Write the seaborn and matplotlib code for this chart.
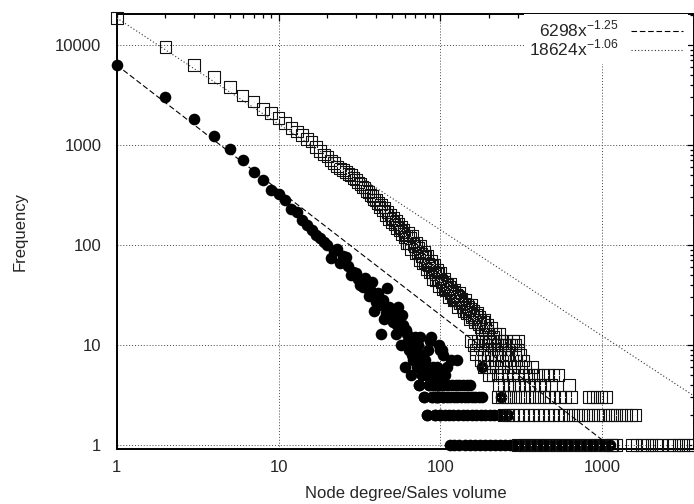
"""
Degree distribution and sales volume distribution on log-log axes,
with the two power-law fits shown in the legend.
"""
import matplotlib
matplotlib.use('Agg')
import matplotlib.pyplot as plt
from matplotlib.ticker import LogLocator, FixedLocator, NullFormatter
import numpy as np
import seaborn as sns

# node degree distribution (filled circles), one value per degree
deg_x = list(range(1, 106))
deg_y = [6300, 3000, 1820, 1240, 910, 700, 537, 450, 352, 326,
         281, 229, 215, 178, 158, 141, 126, 117, 108, 100,
         74, 88, 91, 66, 78, 76, 62, 50, 54, 53,
         46, 40, 38, 47, 37, 31, 35, 43, 22, 27,
         33, 25, 13, 28, 18, 21, 37, 24, 20, 21,
         17, 19, 13, 16, 24, 15, 10, 20, 16, 6,
         14, 13, 11, 9, 10, 5, 8, 7, 9, 12,
         7, 6, 10, 4, 12, 8, 5, 6, 3, 7,
         6, 5, 2, 9, 4, 11, 12, 5, 3, 6,
         4, 2, 5, 3, 6, 4, 3, 10, 2, 9,
         4, 9, 3, 8, 5]
# degrees that share the same low frequency
deg_band_y = [7, 6, 5, 4, 3, 2, 1]
deg_band_x = [
    [116, 126],
    [109, 181],
    [77, 82, 88, 93, 101, 106],
    [74, 85, 91, 96, 101, 107, 112, 118, 125, 131, 138, 146, 153],
    [79, 89, 94, 97, 103, 110, 115, 121, 127, 134, 141, 148, 156, 164,
     172, 181, 236],
    [83, 92, 99, 107, 113, 120, 128, 137, 146, 156, 166, 177, 189, 202,
     215, 229, 244, 260],
    [114, 122, 131, 141, 152, 163, 175, 188, 202, 217, 233, 250, 269,
     289, 310, 333, 358, 384, 413, 443, 476, 511, 549, 590, 634, 681,
     731, 785, 843, 906, 973, 1045, 1120],
]

# sales volume distribution (open squares)
sales_x = (list(range(1, 101))
           + [102, 104, 106, 108, 110, 112, 114, 116, 118, 120, 122, 124,
              126, 128, 130, 133, 136, 139, 142, 145, 148, 151, 154, 157,
              160, 164, 168, 172, 176, 180, 185, 190, 195, 200, 205, 211,
              218, 225, 232, 240, 250, 262, 275])
sales_y = [18624, 9480, 6310, 4750, 3775, 3115, 2710, 2300, 2075, 1850,
           1660, 1475, 1360, 1250, 1150, 1080, 950, 870, 800, 765,
           700, 660, 610, 580, 560, 540, 515, 500, 470, 450,
           420, 410, 380, 375, 345, 340, 315, 310, 285, 280,
           262, 240, 255, 222, 236, 200, 215, 182, 200, 170,
           185, 160, 176, 148, 162, 140, 152, 128, 142, 120,
           124, 104, 133, 105, 119, 90, 123, 103, 98, 83,
           106, 84, 94, 71, 98, 82, 78, 66, 85, 67,
           76, 57, 78, 65, 63, 53, 69, 54, 62, 46,
           64, 54, 51, 44, 56, 45, 51, 39, 53, 45,
           42, 36, 46, 35, 40, 30, 41, 35, 33, 28, 36, 28,
           31, 24, 33, 28, 26, 22, 28, 21, 24, 18, 25, 20,
           19, 17, 21, 16, 18, 13, 18, 15, 14, 12, 15, 12,
           13, 10, 13, 11, 10, 9, 10]
# in-between sales values from the dense part of the strand
sales_x2 = [101, 103, 105, 107, 109, 111, 113, 115, 117, 119, 121, 123,
            125, 127, 129, 131, 135, 138, 141, 144, 147, 150, 153, 156,
            159, 162, 166, 170, 174, 178, 183, 188, 193, 198]
sales_y2 = [44, 39, 43, 37, 41, 35, 38, 33, 36, 31, 34, 29,
            32, 28, 30, 26, 29, 24, 26, 22, 25, 21, 23, 19,
            22, 18, 20, 17, 19, 15, 17, 14, 16, 13]
sales_band_y = [11, 10, 9, 8, 7, 6, 5, 4, 3, 2, 1]
sales_band_x = [
    [155, 170, 190, 210, 230, 255, 280, 300],
    [160, 175, 195, 215, 240, 265, 290],
    [165, 180, 200, 225, 250, 275, 300],
    [165, 185, 205, 230, 260, 290, 310],
    [177, 195, 215, 240, 265, 295, 325],
    [185, 200, 220, 245, 270, 300, 335, 370],
    [198, 210, 225, 240, 260, 280, 300, 325, 350, 375, 400, 430, 460,
     500, 536],
    [228, 245, 265, 285, 305, 330, 355, 380, 410, 440, 480, 620],
    [225, 240, 255, 270, 290, 310, 330, 355, 380, 405, 435, 470, 505,
     545, 590, 640, 820, 870, 930, 990, 1050],
    [245, 263, 282, 303, 325, 349, 375, 403, 432, 464, 498, 535, 574,
     616, 661, 710, 762, 818, 878, 943, 1012, 1090, 1150, 1220, 1310,
     1400, 1500, 1600],
    [300, 330, 360, 395, 430, 470, 515, 560, 610, 670, 730, 800, 870,
     950, 1040, 1130, 1150, 1220, 1520, 1620, 1760, 1880, 2010, 2150,
     2300, 2580, 2760, 2950, 3150, 3370, 3600],
]

# power-law fits  a * x^b
fit_a = [6298, 18624]
fit_b = [-1.25, -1.06]
fit_labels = [r'6298x$^{\mathregular{-1.25}}$',
              r'18624x$^{\mathregular{-1.06}}$']


def expand(xs, ys, band_x, band_y):
    """join the per-value points with the flat frequency bands"""
    x = list(xs)
    y = list(ys)
    for level, row in zip(band_y, band_x):
        x += row
        y += [level] * len(row)
    return np.array(x, dtype=float), np.array(y, dtype=float)


def main():
    sns.set_style('white')
    plt.rcParams['font.family'] = ['Liberation Sans', 'DejaVu Sans']
    plt.rcParams['font.size'] = 12

    fig = plt.figure(figsize=(6.94, 5.04), dpi=100)
    ax = fig.add_axes([116.7 / 694, 1 - 449 / 504,
                       1 - 116.7 / 694, (449 - 14) / 504])

    dx, dy = expand(deg_x, deg_y, deg_band_x, deg_band_y)
    sx, sy = expand(sales_x + sales_x2, sales_y + sales_y2,
                    sales_band_x, sales_band_y)

    sns.scatterplot(x=dx, y=dy, ax=ax, color='black', marker='o', s=70,
                    linewidth=0, zorder=3, clip_on=False)
    sns.scatterplot(x=sx, y=sy, ax=ax, marker='s', s=70,
                    facecolor='none', edgecolor='#111111', linewidth=0.8,
                    zorder=4, clip_on=False)
    # gnuplot puts a small dot in the middle of each box
    sns.scatterplot(x=sx, y=sy, ax=ax, color='#444444', marker='.', s=2,
                    linewidth=0, zorder=4, clip_on=False)

    x_lim = (1, 3680)
    y_lim = (0.912, 20400)
    xs = np.geomspace(x_lim[0], x_lim[1], 300)
    styles = [dict(linestyle=(0, (5, 2.5)), color='black', lw=0.8),
              dict(linestyle=(0, (1, 2.0)), color='#333333', lw=0.8)]
    handles = []
    for a, b, lab, st in zip(fit_a, fit_b, fit_labels, styles):
        line, = ax.plot(xs, a * xs ** b, label=lab, zorder=5, **st)
        handles.append(line)

    ax.set_xscale('log')
    ax.set_yscale('log')
    ax.set_xlim(*x_lim)
    ax.set_ylim(*y_lim)

    ax.xaxis.set_major_locator(FixedLocator([1, 10, 100, 1000]))
    ax.yaxis.set_major_locator(FixedLocator([1, 10, 100, 1000, 10000]))
    ax.set_xticklabels(['1', '10', '100', '1000'])
    ax.set_yticklabels(['1', '10', '100', '1000', '10000'])
    ax.xaxis.set_minor_locator(LogLocator(base=10, subs=np.arange(2, 10)))
    ax.yaxis.set_minor_locator(LogLocator(base=10, subs=np.arange(2, 10)))
    ax.xaxis.set_minor_formatter(NullFormatter())
    ax.yaxis.set_minor_formatter(NullFormatter())
    ax.tick_params(which='both', direction='in', top=True, right=True,
                   color='black', width=0.9)
    ax.tick_params(which='major', length=5)
    ax.tick_params(which='minor', length=3)
    ax.tick_params(axis='x', which='major', pad=8, labelsize=12)
    ax.tick_params(axis='y', which='major', pad=11, labelsize=12)

    ax.grid(True, which='major', color='#444444', linestyle=(0, (1, 2)),
            linewidth=0.7, zorder=0)
    for sp in ax.spines.values():
        sp.set_linewidth(1.4)
        sp.set_color('black')

    ax.set_xlabel('Node degree/Sales volume', fontsize=12, labelpad=8)
    ax.set_ylabel('Frequency', fontsize=12, labelpad=20)

    leg = ax.legend(handles=handles, loc='upper right',
                    bbox_to_anchor=(0.99, 1.0), markerfirst=False,
                    frameon=True, fancybox=False, edgecolor='none',
                    facecolor='white', framealpha=1.0, borderaxespad=0.0,
                    handlelength=3.0, handletextpad=0.7, labelspacing=-0.1,
                    borderpad=0.3, fontsize=12.5)
    for col in leg._legend_handle_box.get_children():
        col.align = 'right'
    leg.set_zorder(10)

    fig.savefig('out.png', dpi=100)
    plt.close(fig)


if __name__ == '__main__':
    main()
